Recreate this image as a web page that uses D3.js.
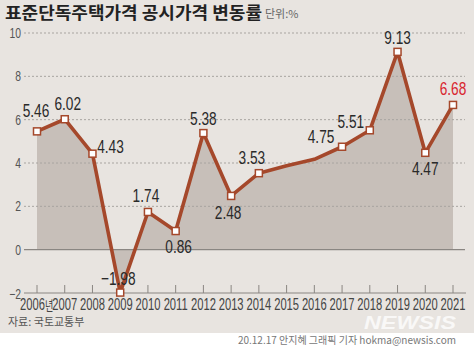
<!DOCTYPE html>
<html><head><meta charset="utf-8">
<script src="https://cdn.jsdelivr.net/npm/d3@7"></script>
<style>
html,body{margin:0;padding:0;background:#fff;}
svg{display:block;}
</style></head>
<body>
<svg id="c" width="474" height="348"></svg>
<script>
const years = [2006,2007,2008,2009,2010,2011,2012,2013,2014,2015,2016,2017,2018,2019,2020,2021];
const yearLabels = ["2006년","2007","2008","2009","2010","2011","2012","2013","2014","2015","2016","2017","2018","2019","2020","2021"];
const values = [5.46,6.02,4.43,-1.98,1.74,0.86,5.38,2.48,3.53,3.87,4.17,4.75,5.51,9.13,4.47,6.68];
const valueLabels = ["5.46","6.02","4.43","−1.98","1.74","0.86","5.38","2.48","3.53",null,null,"4.75","5.51","9.13","4.47","6.68"];
const yTicks = [-2,0,2,4,6,8,10];
const yTickLabels = ["−2","0","2","4","6","8","10"];

// label placement (layout, not data)
const labelOffset = {
  2006:[-1,-14],2007:[3,-9],2008:[18,-1],2009:[-2,-8],2010:[-2,-10],2011:[3,22],
  2012:[0,-8],2013:[-3,23],2014:[-7,-9],2017:[-21,-4],2018:[-19,-2],2019:[0,-8],
  2020:[0,22],2021:[0,-10]
};

const svg = d3.select("#c");
const W = 474, H = 348;
const bg = "#e8e4e0", areaC = "#c7bfb9", lineC = "#a5482b";
const numFont = "'Liberation Sans','Arial',sans-serif";
const krFont = "'Noto Sans CJK KR','Noto Sans',sans-serif";
const SX = 0.74;

svg.append("rect").attr("width",W).attr("height",H).attr("fill","#fff");
svg.append("rect").attr("width",W).attr("height",333).attr("fill",bg);

const x = d3.scalePoint().domain(years).range([37,453]);
const y = d3.scaleLinear().domain([-2,10]).range([293,33]);

const data = years.map((yr,i)=>({yr, v:values[i], lab:valueLabels[i]}));
svg.append("path").datum(data)
  .attr("d", d3.area().x(d=>x(d.yr)).y0(y(0)).y1(d=>y(d.v)))
  .attr("fill", areaC);

// grid
yTicks.forEach(t=>{
  if (t === -2) return;
  svg.append("line").attr("x1",24).attr("x2",465).attr("y1",y(t)).attr("y2",y(t))
    .attr("stroke", t===0 ? "#8a8682" : "#a8a4a0")
    .attr("stroke-width", t===0 ? 1.2 : 1)
    .attr("stroke-dasharray", t===0 ? null : "2,2");
});
// y labels
yTicks.forEach((t,i)=>{
  svg.append("text").attr("transform",`translate(21,${y(t)+5 + (t===-2?1:0)}) scale(${SX},1)`)
    .attr("text-anchor","end").attr("font-family",numFont).attr("font-size",14)
    .attr("fill","#555").text(yTickLabels[i]);
});

// x axis
const gx = svg.append("g").attr("transform",`translate(0,${y(-2)})`)
  .call(d3.axisBottom(x).tickSize(0).tickFormat(()=>""));
gx.select(".domain").remove();
svg.append("line").attr("x1",24).attr("x2",466).attr("y1",y(-2)).attr("y2",y(-2))
  .attr("stroke","#8a8682").attr("stroke-width",1.2);
years.forEach(yr=>{
  svg.append("line").attr("x1",x(yr)).attr("x2",x(yr)).attr("y1",y(-2)-8).attr("y2",y(-2))
    .attr("stroke","#8a8682").attr("stroke-width",1);
});
const YSX = 0.7;
years.forEach((yr,i)=>{
  const t = svg.append("text")
    .attr("transform",`translate(${x(yr)},310) scale(${YSX},1)`)
    .attr("text-anchor", "middle").attr("font-family",numFont).attr("font-size",16)
    .attr("fill","#444");
  if (i===0){
    t.attr("text-anchor","start").attr("transform",`translate(20,310) scale(${YSX},1)`);
    t.append("tspan").text("2006");
    t.append("tspan").attr("font-family",krFont).attr("font-size",13).text("년");
  } else t.text(yearLabels[i]);
});

// line
svg.append("path").datum(data)
  .attr("d", d3.line().x(d=>x(d.yr)).y(d=>y(d.v)))
  .attr("fill","none").attr("stroke",lineC).attr("stroke-width",3.6).attr("stroke-linejoin","round");

// markers
svg.selectAll("rect.m").data(data.filter(d=>d.lab)).enter().append("rect")
  .attr("class","m").attr("x",d=>x(d.yr)-3.5).attr("y",d=>y(d.v)-3.5)
  .attr("width",7).attr("height",7).attr("fill","#fff").attr("stroke",lineC).attr("stroke-width",1.5);

// value labels
data.filter(d=>d.lab).forEach(d=>{
  const o = labelOffset[d.yr];
  svg.append("text")
    .attr("transform",`translate(${x(d.yr)+o[0]},${y(d.v)+o[1]}) scale(${SX},1)`)
    .attr("text-anchor","middle").attr("font-family",numFont).attr("font-size",18.5)
    .attr("fill", d.yr===2021 ? "#d8262f" : "#2a2a2a").text(d.lab);
});

// title
svg.append("text").attr("x",5).attr("y",19).attr("font-family",krFont).attr("font-weight",700)
  .attr("font-size",17).attr("fill","#222").attr("textLength",257).attr("lengthAdjust","spacingAndGlyphs")
  .text("표준단독주택가격 공시가격 변동률");
svg.append("text").attr("x",265).attr("y",18).attr("font-family",krFont)
  .attr("font-size",11).attr("fill","#666").text("단위:%");

// source
svg.append("text").attr("x",8).attr("y",326).attr("font-family",krFont)
  .attr("font-size",11).attr("fill","#555").text("자료: 국토교통부");

// watermark
svg.append("text").attr("x",410).attr("y",329).attr("text-anchor","middle")
  .attr("font-family","'Liberation Sans','DejaVu Sans',sans-serif").attr("font-weight",700)
  .attr("font-style","italic").attr("font-size",18).attr("fill","#ffffff").attr("opacity",0.75)
  .attr("textLength",92).attr("lengthAdjust","spacingAndGlyphs")
  .text("NEWSIS");

// credit
svg.append("text").attr("x",456).attr("y",344).attr("text-anchor","end").attr("font-family",krFont)
  .attr("font-size",10).attr("fill","#777").text("20.12.17 안지혜 그래픽 기자 hokma@newsis.com");
</script>
</body></html>
